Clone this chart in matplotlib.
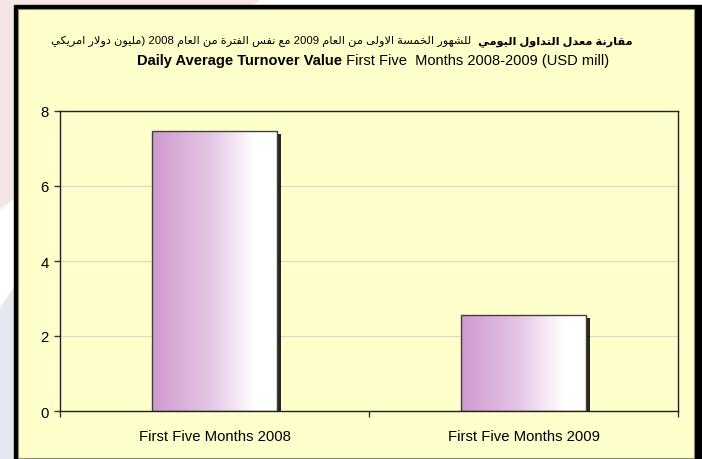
import matplotlib
matplotlib.use("Agg")
import matplotlib.pyplot as plt
import matplotlib.patheffects as pe
from matplotlib.patches import Rectangle, Polygon
from matplotlib.colors import LinearSegmentedColormap
import numpy as np

# data
categories = ["First Five Months 2008", "First Five Months 2009"]
turnover = [7.47, 2.56]
yticks = [0, 2, 4, 6, 8]

title_ar_bold = "مقارنة معدل التداول اليومي"
title_ar_rest = "للشهور الخمسة الاولى من العام 2009 مع نفس الفترة من العام 2008 (مليون دولار امريكي"
title_en_bold = "Daily Average Turnover Value"
title_en_rest = " First Five  Months 2008-2009 (USD mill)"

W, H = 702, 460

# minimal arabic shaping (isolated, final, initial, medial)
AR_FORMS = {
    'ا': ('\ufe8d', '\ufe8e', None, None),
    'ة': ('\ufe93', '\ufe94', None, None),
    'ت': ('\ufe95', '\ufe96', '\ufe97', '\ufe98'),
    'خ': ('\ufea5', '\ufea6', '\ufea7', '\ufea8'),
    'د': ('\ufea9', '\ufeaa', None, None),
    'ر': ('\ufead', '\ufeae', None, None),
    'س': ('\ufeb1', '\ufeb2', '\ufeb3', '\ufeb4'),
    'ش': ('\ufeb5', '\ufeb6', '\ufeb7', '\ufeb8'),
    'ع': ('\ufec9', '\ufeca', '\ufecb', '\ufecc'),
    'ف': ('\ufed1', '\ufed2', '\ufed3', '\ufed4'),
    'ق': ('\ufed5', '\ufed6', '\ufed7', '\ufed8'),
    'ك': ('\ufed9', '\ufeda', '\ufedb', '\ufedc'),
    'ل': ('\ufedd', '\ufede', '\ufedf', '\ufee0'),
    'م': ('\ufee1', '\ufee2', '\ufee3', '\ufee4'),
    'ن': ('\ufee5', '\ufee6', '\ufee7', '\ufee8'),
    'ه': ('\ufee9', '\ufeea', '\ufeeb', '\ufeec'),
    'و': ('\ufeed', '\ufeee', None, None),
    'ى': ('\ufeef', '\ufef0', None, None),
    'ي': ('\ufef1', '\ufef2', '\ufef3', '\ufef4'),
    'لا': ('\ufefb', '\ufefc', None, None),
}


def shape_word(w):
    tokens = []
    i = 0
    while i < len(w):
        if w[i] == 'ل' and i + 1 < len(w) and w[i + 1] == 'ا':
            tokens.append('لا')
            i += 2
        else:
            tokens.append(w[i])
            i += 1
    out = []
    for k, t in enumerate(tokens):
        f = AR_FORMS.get(t)
        if f is None:
            out.append(t)
            continue
        prev = tokens[k - 1] if k > 0 else None
        nxt = tokens[k + 1] if k + 1 < len(tokens) else None
        join_prev = prev in AR_FORMS and AR_FORMS[prev][2] is not None
        join_next = nxt in AR_FORMS and f[2] is not None
        if join_prev and join_next:
            out.append(f[3])
        elif join_prev:
            out.append(f[1])
        elif join_next:
            out.append(f[2])
        else:
            out.append(f[0])
    return ''.join(reversed(out))


def visual(line):
    words = []
    for w in line.split(' '):
        if w.startswith('('):
            words.append(shape_word(w[1:]) + ')')
        elif any(c in AR_FORMS for c in w):
            words.append(shape_word(w))
        else:
            words.append(w)
    return ' '.join(reversed(words))


def fx(x):
    return x / W


def fy(y):
    return 1 - y / H


fig = plt.figure(figsize=(W / 100, H / 100), dpi=100)
fig.patch.set_facecolor('white')

# faint backdrop shapes outside the panel
fig.patches.append(Polygon([(fx(0), fy(0)), (fx(260), fy(0)), (fx(0), fy(210))],
                           closed=True, transform=fig.transFigure, color='#f5e6e6', zorder=0))
fig.patches.append(Polygon([(fx(0), fy(310)), (fx(20), fy(280)), (fx(20), fy(460)), (fx(0), fy(460))],
                           closed=True, transform=fig.transFigure, color='#e5e9ef', zorder=0))

# panel frame
fig.patches.append(Rectangle((fx(14), fy(460)), fx(702 - 14), (460 - 6) / H,
                             transform=fig.transFigure, color='black', zorder=1))
fig.patches.append(Rectangle((fx(18), fy(459)), fx(694 - 18), (459 - 10) / H,
                             transform=fig.transFigure, facecolor='#ffffcc',
                             edgecolor='#8c8c6a', lw=0.8, zorder=2))

ax = fig.add_axes([fx(60), fy(412), fx(618), 300 / H])
ax.set_zorder(5)
ax.set_facecolor('none')

x = np.arange(len(categories))
bar_w = 0.405
bars = ax.bar(x, turnover, width=bar_w, color='white', edgecolor='none', zorder=2,
              path_effects=[pe.SimplePatchShadow(offset=(2.5, -2.5), shadow_rgbFace='black', alpha=0.85)])

cmap = LinearSegmentedColormap.from_list('grad', [(0, '#cf9acf'), (0.45, '#e4c4e4'),
                                                  (0.82, '#ffffff'), (1, '#ffffff')])
grad = np.linspace(0, 1, 256).reshape(1, -1)
for b in bars:
    bx, by, bw, bh = b.get_x(), b.get_y(), b.get_width(), b.get_height()
    im = ax.imshow(grad, cmap=cmap, extent=[bx, bx + bw, by, by + bh], aspect='auto',
                   zorder=2.5, interpolation='bilinear')
    im.set_clip_path(b)
ax.bar(x, turnover, width=bar_w, fill=False, edgecolor='#404040', lw=1, zorder=3)

ax.set_xlim(-0.5, 1.5)
ax.set_ylim(0, 8)
ax.set_yticks(yticks)
ax.set_xticks(x, categories)
ax.set_xticks([-0.5, 0.5, 1.5], minor=True)
ax.tick_params(axis='x', which='major', length=0, pad=13, labelsize=10.7)
ax.tick_params(axis='x', which='minor', length=4, width=1, color='#333333', direction='out')
ax.tick_params(axis='y', length=4, width=1, color='#333333', direction='out', pad=4, labelsize=10.7)
ax.yaxis.grid(True, color='#dcdcc4', lw=1)
ax.set_axisbelow(True)
for s in ax.spines.values():
    s.set_color('#222222')
    s.set_linewidth(1)

for lab in ax.get_xticklabels() + ax.get_yticklabels():
    lab.set_fontfamily('Liberation Sans')

# titles
ar_family = ['Liberation Sans', 'DejaVu Sans']
ar_size = 8.2
t_ar_b = fig.text(fx(632), fy(44), visual(title_ar_bold), ha='right', va='baseline',
                  fontsize=ar_size, fontweight='bold', family=ar_family)
t_en_b = fig.text(fx(137), fy(65), title_en_bold, ha='left', va='baseline',
                  fontsize=10.5, fontweight='bold', family='Liberation Sans')
fig.canvas.draw()
r = fig.canvas.get_renderer()
bb = t_ar_b.get_window_extent(r)
fig.text((bb.x0 - 6) / W, fy(44), visual(title_ar_rest), ha='right', va='baseline',
         fontsize=ar_size, family=ar_family)
bb = t_en_b.get_window_extent(r)
fig.text(bb.x1 / W, fy(65), title_en_rest, ha='left', va='baseline',
         fontsize=10.5, family='Liberation Sans')

fig.savefig('out.png', dpi=100)
